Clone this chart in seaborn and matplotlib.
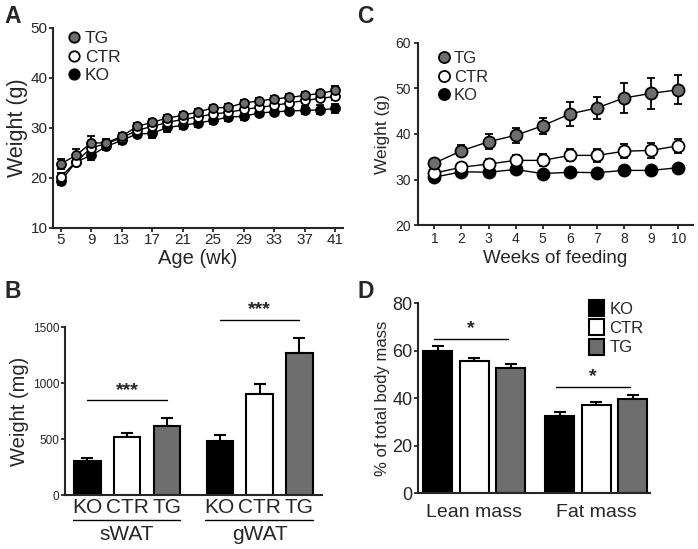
import numpy as np
import pandas as pd
import matplotlib
matplotlib.use("Agg")
import matplotlib.pyplot as plt
from matplotlib.lines import Line2D
from matplotlib.patches import Patch
import seaborn as sns

# ---------------- data ----------------
groups = ["TG", "CTR", "KO"]
fills = {"TG": "#6e6e6e", "CTR": "white", "KO": "black"}

# panel A: body weight vs age
age_wk = [5, 7, 9, 11, 13, 15, 17, 19, 21, 23, 25, 27, 29, 31, 33, 35, 37, 39, 41]
a_tg = [22.8, 24.5, 27.0, 27.0, 28.3, 30.3, 31.1, 32.0, 32.5, 33.2, 34.0, 34.1, 35.0, 35.4, 35.8, 36.1, 36.5, 36.9, 37.5]
a_ctr = [20.2, 23.2, 26.0, 26.9, 28.0, 29.5, 30.3, 31.1, 31.7, 32.2, 32.8, 33.1, 33.7, 34.1, 34.5, 35.0, 35.5, 35.9, 36.3]
a_ko = [19.3, 23.2, 24.5, 26.3, 27.5, 28.8, 28.9, 30.1, 30.5, 31.0, 31.5, 32.2, 32.3, 33.0, 33.2, 33.4, 33.5, 33.6, 33.9]
a_tg_err = [1.0, 1.2, 1.3, 0.8, 0.7, 0.6, 0.6, 0.6, 0.6, 0.6, 0.6, 0.6, 0.6, 0.6, 0.6, 0.6, 0.7, 0.7, 0.8]
a_ctr_err = [0.8, 0.7, 0.9, 0.6, 0.6, 0.5, 0.5, 0.5, 0.5, 0.5, 0.5, 0.5, 0.5, 0.5, 0.5, 0.6, 0.6, 0.6, 0.7]
a_ko_err = [0.7, 0.8, 1.0, 0.8, 0.8, 0.7, 1.0, 0.9, 0.8, 0.8, 0.8, 0.8, 0.8, 0.7, 0.7, 0.7, 0.8, 0.9, 0.9]

# panel C: body weight during feeding
feed_wk = [1, 2, 3, 4, 5, 6, 7, 8, 9, 10]
c_tg = [33.6, 36.3, 38.3, 39.7, 41.8, 44.4, 45.7, 47.9, 48.9, 49.7]
c_ctr = [31.4, 32.7, 33.4, 34.2, 34.2, 35.3, 35.3, 36.2, 36.4, 37.4]
c_ko = [30.5, 31.7, 31.6, 32.2, 31.3, 31.6, 31.5, 32.0, 32.0, 32.6]
c_tg_err = [1.0, 1.2, 1.6, 1.7, 1.8, 2.6, 2.5, 3.3, 3.4, 3.2]
c_ctr_err = [0.6, 0.9, 1.1, 1.2, 1.3, 1.3, 1.5, 1.5, 1.6, 1.6]
c_ko_err = [0.5, 0.5, 0.4, 0.5, 0.5, 0.4, 0.4, 0.4, 0.4, 0.4]

# panel B: fat pad weights
fat_pads = ["sWAT", "gWAT"]
bar_groups = ["KO", "CTR", "TG"]
b_mean = {"KO": [306, 481], "CTR": [520, 906], "TG": [618, 1268]}
b_err = {"KO": [27, 54], "CTR": [35, 89], "TG": [74, 134]}

# panel D: body composition
comp = ["Lean mass", "Fat mass"]
d_mean = {"KO": [59.9, 32.6], "CTR": [55.4, 37.1], "TG": [52.8, 39.7]}
d_err = {"KO": [1.9, 1.6], "CTR": [1.3, 1.2], "TG": [1.5, 1.7]}

# ---------------- style ----------------
sns.set_style("ticks")
plt.rcParams["font.family"] = ["Liberation Sans", "DejaVu Sans"]
plt.rcParams["axes.linewidth"] = 1.5
plt.rcParams["xtick.major.width"] = 1.3
plt.rcParams["ytick.major.width"] = 1.3
plt.rcParams["xtick.major.size"] = 3
plt.rcParams["ytick.major.size"] = 3

fig = plt.figure(figsize=(6.98, 5.49), dpi=100)
axA = fig.add_axes([0.076, 0.585, 0.415, 0.364])
axC = fig.add_axes([0.599, 0.590, 0.394, 0.332])
axB = fig.add_axes([0.093, 0.098, 0.368, 0.306])
axD = fig.add_axes([0.599, 0.102, 0.332, 0.346])


def line_panel(ax, x, series, errs, ms):
    rows = []
    for g in groups:
        for xi, yi in zip(x, series[g]):
            rows.append({"x": xi, "y": yi, "group": g})
    df = pd.DataFrame(rows)
    sns.lineplot(data=df, x="x", y="y", hue="group", palette={g: "black" for g in groups},
                 lw=1.0, legend=False, ax=ax, zorder=1)
    for i, g in enumerate(["KO", "CTR", "TG"]):
        ax.errorbar(x, series[g], yerr=errs[g], fmt="none", ecolor="black",
                    elinewidth=1.3, capsize=3, capthick=1.3, zorder=2 + i)
    for i, g in enumerate(["KO", "CTR", "TG"]):
        sns.scatterplot(data=df[df.group == g], x="x", y="y", color=fills[g], s=ms,
                        edgecolor="black", linewidth=1.3, legend=False, ax=ax, zorder=5 + i)
    sns.despine(ax=ax)
    ax.set_xlabel("")
    ax.set_ylabel("")


def circle_legend(ax, size, fs, loc_xy):
    handles = [Line2D([], [], ls="none", marker="o", mfc=fills[g], mec="black",
                      mew=1.3, ms=size) for g in groups]
    ax.legend(handles, groups, loc="upper left", bbox_to_anchor=loc_xy, frameon=False,
              fontsize=fs, handletextpad=0.1, labelspacing=0.2, borderaxespad=0,
              handlelength=1.0)


# ---- A ----
line_panel(axA, age_wk, {"TG": a_tg, "CTR": a_ctr, "KO": a_ko},
           {"TG": a_tg_err, "CTR": a_ctr_err, "KO": a_ko_err}, ms=42)
axA.set_xlim(4, 42)
axA.set_ylim(10, 50)
axA.set_xticks(range(5, 42, 4))
axA.set_yticks([10, 20, 30, 40, 50])
axA.tick_params(labelsize=11, pad=1)
axA.set_xlabel("Age (wk)", fontsize=14.5, labelpad=1)
axA.set_ylabel("Weight (g)", fontsize=15.5, labelpad=2)
circle_legend(axA, 7.5, 12.5, (0.02, 1.02))

# ---- C ----
line_panel(axC, feed_wk, {"TG": c_tg, "CTR": c_ctr, "KO": c_ko},
           {"TG": c_tg_err, "CTR": c_ctr_err, "KO": c_ko_err}, ms=75)
axC.set_xlim(0.4, 10.55)
axC.set_ylim(20, 60)
axC.set_xticks(feed_wk)
axC.set_yticks([20, 30, 40, 50, 60])
axC.tick_params(labelsize=10, pad=2)
axC.set_xlabel("Weeks of feeding", fontsize=13.5, labelpad=3)
axC.set_ylabel("Weight (g)", fontsize=12.5, labelpad=4)
circle_legend(axC, 8, 12, (0.04, 0.99))


def bar_panel(ax, cats, means, errs, gap):
    rows = []
    for g in bar_groups:
        for c, m in zip(cats, means[g]):
            rows.append({"cat": c, "val": m, "group": g})
    df = pd.DataFrame(rows)
    sns.barplot(data=df, x="cat", y="val", hue="group", hue_order=bar_groups, order=cats,
                palette={"KO": "black", "CTR": "white", "TG": "#6e6e6e"},
                edgecolor="black", linewidth=1.5, width=0.9, gap=gap, errorbar=None,
                legend=False, ax=ax)
    for bars, g in zip(ax.containers, bar_groups):
        xs = [b.get_x() + b.get_width() / 2 for b in bars]
        ax.errorbar(xs, means[g], yerr=[[0] * len(xs), errs[g]], fmt="none", ecolor="black",
                    elinewidth=1.5, capsize=4, capthick=1.5, zorder=0.5)
    sns.despine(ax=ax)
    ax.set_xlabel("")
    ax.set_ylabel("")
    return df


# ---- B ----
bar_panel(axB, fat_pads, b_mean, b_err, gap=0.33)
axB.set_xlim(-0.47, 1.47)
axB.set_ylim(0, 1500)
axB.set_yticks([0, 500, 1000, 1500])
bar_x = [-0.3, 0, 0.3, 0.7, 1.0, 1.3]
axB.set_xticks(bar_x)
axB.set_xticklabels(bar_groups * 2)
axB.tick_params(axis="x", length=0, labelsize=15, pad=2)
axB.tick_params(axis="y", labelsize=8.5, pad=1)
axB.set_ylabel("Weight (mg)", fontsize=14.5, labelpad=3)
trB = axB.get_xaxis_transform()
for i, name in enumerate(fat_pads):
    axB.plot([i - 0.41, i + 0.4], [-0.145, -0.145], color="black", lw=1.0,
             transform=trB, clip_on=False)
    axB.text(i, -0.175, name, transform=trB, ha="center", va="top", fontsize=15)
for i, (y, x0, x1) in enumerate([(846, -0.3, 0.3), (1565, 0.7, 1.3)]):
    axB.plot([x0, x1], [y, y], color="black", lw=1.0, clip_on=False)
    axB.text((x0 + x1) / 2, y + 15, "***", ha="center", va="bottom", fontsize=14,
             fontweight="bold")

# ---- D ----
bar_panel(axD, comp, d_mean, d_err, gap=0.2)
axD.set_xlim(-0.46, 1.44)
axD.set_ylim(0, 80)
axD.set_yticks([0, 20, 40, 60, 80])
axD.tick_params(axis="x", length=0, labelsize=14, pad=8)
axD.tick_params(axis="y", labelsize=13, pad=1)
axD.set_ylabel("% of total body mass", fontsize=12, labelpad=2)
for y, x0, x1 in [(64.8, -0.33, 0.28), (44.6, 0.67, 1.28)]:
    axD.plot([x0, x1], [y, y], color="black", lw=1.0)
    axD.text((x0 + x1) / 2, y + 0.8, "*", ha="center", va="bottom", fontsize=14,
             fontweight="bold")
sq = [Patch(facecolor={"KO": "black", "CTR": "white", "TG": "#6e6e6e"}[g],
            edgecolor="black", linewidth=1.5) for g in bar_groups]
axD.legend(sq, bar_groups, loc="upper left", bbox_to_anchor=(0.71, 1.05), frameon=False,
           fontsize=12, handlelength=0.9, handleheight=1.1, handletextpad=0.3,
           labelspacing=0.15, borderaxespad=0)

# ---- panel letters ----
for lab, x, y in [("A", 0.006, 0.99), ("C", 0.512, 0.99), ("B", 0.006, 0.49), ("D", 0.512, 0.49)]:
    fig.text(x, y, lab, fontsize=16.5, fontweight="heavy", va="top", ha="left")

fig.savefig("out.png", dpi=100)
